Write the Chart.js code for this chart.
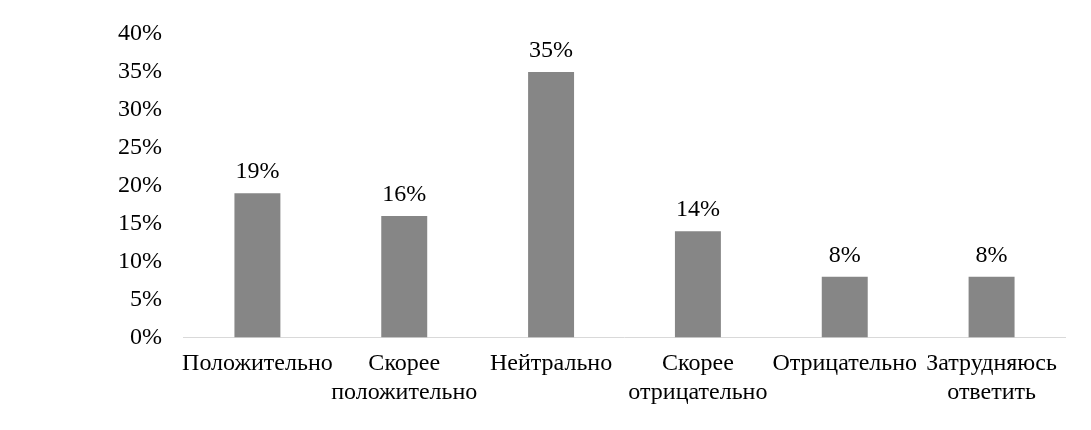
<!DOCTYPE html>
<html>
<head>
<meta charset="utf-8">
<script src="https://cdn.jsdelivr.net/npm/chart.js@4/dist/chart.umd.min.js"></script>
<style>
  html, body { margin: 0; padding: 0; background: #fff; }
  #wrap { width: 1091px; height: 430px; }
</style>
</head>
<body>
<div id="wrap"><canvas id="chart"></canvas></div>
<script>
const categories = [
    'Положительно',
    ['Скорее', 'положительно'],
    'Нейтрально',
    ['Скорее', 'отрицательно'],
    'Отрицательно',
    ['Затрудняюсь', 'ответить']
];
const values = [19, 16, 35, 14, 8, 8];
const yMax = 40;
const yStep = 5;

const fontFamily = '"Liberation Serif", "Times New Roman", serif';

// labels above each bar
const barLabels = {
    id: 'barLabels',
    afterDatasetsDraw(chart) {
        const ctx = chart.ctx;
        const meta = chart.getDatasetMeta(0);
        ctx.save();
        ctx.font = '24px ' + fontFamily;
        ctx.fillStyle = '#000';
        ctx.textAlign = 'center';
        ctx.textBaseline = 'alphabetic';
        meta.data.forEach((bar, i) => {
            ctx.fillText(values[i] + '%', bar.x, bar.y - 15);
        });
        ctx.restore();
    }
};

new Chart(document.getElementById('chart'), {
    type: 'bar',
    data: {
        labels: categories,
        datasets: [{
            data: values,
            backgroundColor: '#868686',
            categoryPercentage: 1,
            barPercentage: 0.313
        }]
    },
    options: {
        responsive: true,
        maintainAspectRatio: false,
        animation: false,
        layout: { padding: { left: 96, right: 26, top: 0, bottom: 11 } },
        scales: {
            x: {
                grid: { display: false, drawTicks: false },
                border: { display: true, color: '#d9d9d9', width: 1 },
                ticks: {
                    color: '#000',
                    padding: 12,
                    maxRotation: 0,
                    autoSkip: false,
                    font: { family: fontFamily, size: 24, lineHeight: 1.2 }
                }
            },
            y: {
                min: 0,
                max: yMax,
                grid: { display: false, drawTicks: false },
                border: { display: false },
                ticks: {
                    stepSize: yStep,
                    color: '#000',
                    padding: 22,
                    font: { family: fontFamily, size: 24, lineHeight: 1.0 },
                    callback: v => v + '%'
                }
            }
        },
        plugins: {
            legend: { display: false },
            tooltip: { enabled: false }
        }
    },
    plugins: [barLabels]
});
</script>
</body>
</html>
